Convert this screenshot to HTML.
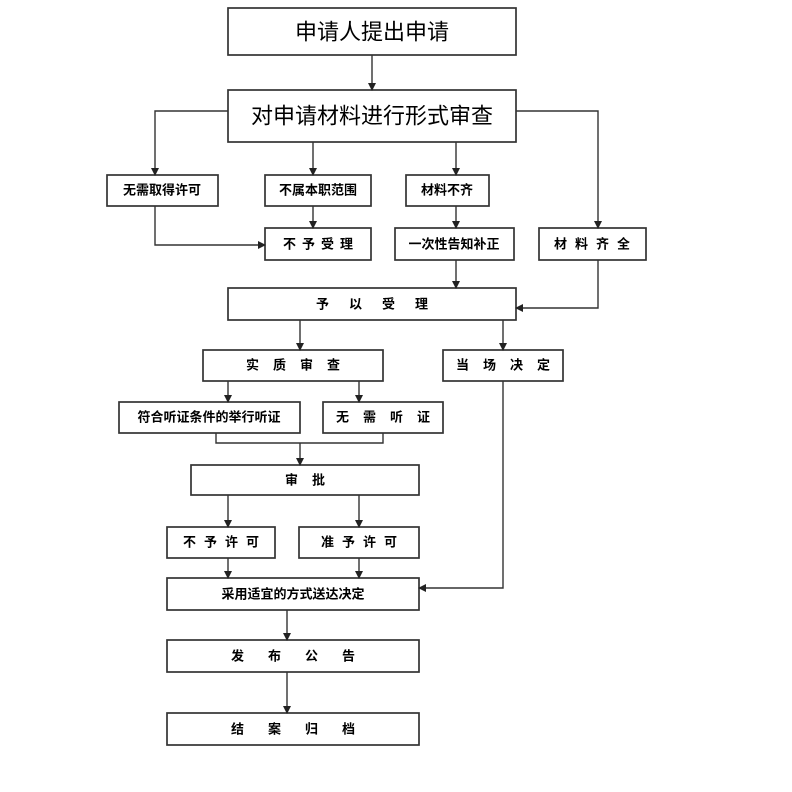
<!DOCTYPE html>
<html><head><meta charset="utf-8"><style>
html,body{margin:0;padding:0;background:#fff;}
svg{display:block;}
text{font-family:"Liberation Sans","Noto Sans CJK SC",sans-serif;fill:#000;text-anchor:middle;dominant-baseline:central;}
.b{font-weight:bold;font-size:13px;}
.big{font-size:22px;}
</style></head><body>
<svg width="792" height="792" viewBox="0 0 792 792" xmlns="http://www.w3.org/2000/svg">
<defs><marker id="a" markerWidth="8" markerHeight="8" refX="7" refY="4" orient="auto" markerUnits="userSpaceOnUse"><path d="M0,0 L8,4 L0,8 z" fill="#222"/></marker></defs>
<g fill="#fff" stroke="#333" stroke-width="1.7">
<rect x="228" y="8" width="288" height="47"/>
<rect x="228" y="90" width="288" height="52"/>
<rect x="107" y="175" width="111" height="31"/>
<rect x="265" y="175" width="106" height="31"/>
<rect x="406" y="175" width="83" height="31"/>
<rect x="265" y="228" width="106" height="32"/>
<rect x="395" y="228" width="119" height="32"/>
<rect x="539" y="228" width="107" height="32"/>
<rect x="228" y="288" width="288" height="32"/>
<rect x="203" y="350" width="180" height="31"/>
<rect x="443" y="350" width="120" height="31"/>
<rect x="119" y="402" width="181" height="31"/>
<rect x="323" y="402" width="120" height="31"/>
<rect x="191" y="465" width="228" height="30"/>
<rect x="167" y="527" width="108" height="31"/>
<rect x="299" y="527" width="120" height="31"/>
<rect x="167" y="578" width="252" height="32"/>
<rect x="167" y="640" width="252" height="32"/>
<rect x="167" y="713" width="252" height="32"/>
</g>
<g fill="none" stroke="#333" stroke-width="1.4" marker-end="url(#a)">
<path d="M372,55 V90"/>
<path d="M228,111 H155 V175"/>
<path d="M155,206 V245 H265"/>
<path d="M313,142 V175"/>
<path d="M313,206 V228"/>
<path d="M456,142 V175"/>
<path d="M456,206 V228"/>
<path d="M456,260 V288"/>
<path d="M516,111 H598 V228"/>
<path d="M598,260 V308 H516"/>
<path d="M300,320 V350"/>
<path d="M503,320 V350"/>
<path d="M228,381 V402"/>
<path d="M359,381 V402"/>
<path d="M300,443 V465"/>
<path d="M228,495 V527"/>
<path d="M359,495 V527"/>
<path d="M228,558 V578"/>
<path d="M359,558 V578"/>
<path d="M503,381 V588 H419"/>
<path d="M287,610 V640"/>
<path d="M287,672 V713"/>
</g>
<path d="M216,433 V443 H383 V433" fill="none" stroke="#333" stroke-width="1.4"/>
<text class="big" x="372" y="32">申请人提出申请</text>
<text class="big" x="372" y="116">对申请材料进行形式审查</text>
<text class="b" x="162" y="190">无需取得许可</text>
<text class="b" x="318" y="190">不属本职范围</text>
<text class="b" x="447" y="190">材料不齐</text>
<text class="b" x="321" y="244" style="letter-spacing:6px">不予受理</text>
<text class="b" x="454" y="244">一次性告知补正</text>
<text class="b" x="596" y="244" style="letter-spacing:8px">材料齐全</text>
<text class="b" x="382" y="304" style="letter-spacing:20px">予以受理</text>
<text class="b" x="300" y="365" style="letter-spacing:14px">实质审查</text>
<text class="b" x="510" y="365" style="letter-spacing:14px">当场决定</text>
<text class="b" x="209" y="417">符合听证条件的举行听证</text>
<text class="b" x="390" y="417" style="letter-spacing:14px">无需听证</text>
<text class="b" x="312" y="480" style="letter-spacing:14px">审批</text>
<text class="b" x="225" y="542" style="letter-spacing:8px">不予许可</text>
<text class="b" x="363" y="542" style="letter-spacing:8px">准予许可</text>
<text class="b" x="293" y="594">采用适宜的方式送达决定</text>
<text class="b" x="305" y="656" style="letter-spacing:24px">发布公告</text>
<text class="b" x="305" y="729" style="letter-spacing:24px">结案归档</text>
</svg>
</body></html>
